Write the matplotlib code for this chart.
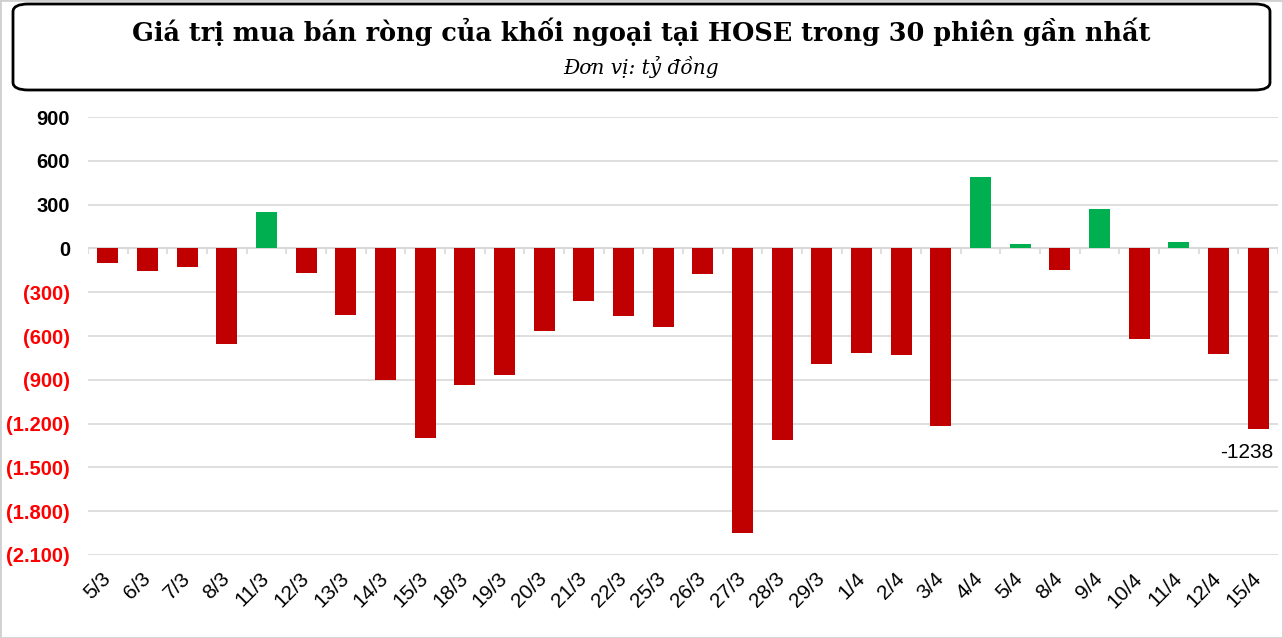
import matplotlib
matplotlib.use("Agg")
import matplotlib.pyplot as plt
from matplotlib.patches import FancyBboxPatch, Rectangle

# Du lieu: gia tri mua ban rong (ty dong)
ngay = ["5/3", "6/3", "7/3", "8/3", "11/3", "12/3", "13/3", "14/3", "15/3", "18/3",
        "19/3", "20/3", "21/3", "22/3", "25/3", "26/3", "27/3", "28/3", "29/3", "1/4",
        "2/4", "3/4", "4/4", "5/4", "8/4", "9/4", "10/4", "11/4", "12/4", "15/4"]
gia_tri = [-98, -155, -126, -657, 248, -166, -453, -903, -1300, -937,
           -864, -564, -360, -462, -537, -173, -1948, -1312, -789, -714,
           -728, -1217, 487, 29, -148, 268, -619, 43, -721, -1238]
y_ticks = [900, 600, 300, 0, -300, -600, -900, -1200, -1500, -1800, -2100]

RED = "#C00000"
GREEN = "#00B050"
GRID = "#D9D9D9"

fig = plt.figure(figsize=(12.83, 6.38), dpi=100)
ax = fig.add_axes([88 / 1283, 1 - 555 / 638, 1190 / 1283, 438 / 638])

x = list(range(len(ngay)))
colors = [GREEN if v > 0 else RED for v in gia_tri]
ax.bar(x, gia_tri, width=0.53, color=colors, zorder=3)

ax.set_xlim(-0.5, len(ngay) - 0.5)
ax.set_ylim(-2100, 900)
ax.set_yticks(y_ticks)


def fmt(v):
    s = f"{abs(v):,}".replace(",", ".")
    return f"({s})" if v < 0 else s


ax.set_yticklabels([fmt(v) for v in y_ticks], fontsize=14.5, fontweight="bold",
                   family="Liberation Sans")
for lbl, v in zip(ax.get_yticklabels(), y_ticks):
    lbl.set_color("red" if v < 0 else "black")
ax.tick_params(axis="y", length=0, pad=13)

ax.set_xticks(x)
ax.set_xticklabels(ngay, rotation=45, ha="right", va="center",
                   rotation_mode="anchor", fontsize=15, family="Liberation Sans")
ax.tick_params(axis="x", length=0, pad=15)

ax.grid(axis="y", color=GRID, linewidth=1.2, zorder=0)
ax.axhline(0, color=GRID, linewidth=1.5, zorder=2)
# vach chia giua cac phien tren truc 0
ax.vlines([i + 0.5 for i in range(-1, len(ngay))], -35, 0, color=GRID,
          linewidth=1.2, zorder=2)
for s in ax.spines.values():
    s.set_visible(False)

# nhan phien cuoi
ax.annotate(str(gia_tri[-1]), (x[-1], gia_tri[-1]), xytext=(-8, -10),
            textcoords="offset points", ha="center", va="top", fontsize=15,
            family="Liberation Sans", color="black", zorder=4)

# khung tieu de
box = FancyBboxPatch((13 / 1283, 1 - 90 / 638), 1257 / 1283, 86 / 638,
                     boxstyle="round,pad=0,rounding_size=0.012",
                     transform=fig.transFigure, fill=False, edgecolor="black",
                     linewidth=2)
fig.patches.append(box)
fig.patches.append(Rectangle((0, 0), 1, 1, transform=fig.transFigure, fill=False,
                             edgecolor="#D0D0D0", linewidth=2))

fig.text(0.5, 1 - 32 / 638, "Giá trị mua bán ròng của khối ngoại tại HOSE trong 30 phiên gần nhất",
         ha="center", va="center", fontsize=18.4, fontweight="bold",
         family="DejaVu Serif")
fig.text(0.5, 1 - 67 / 638, "Đơn vị: tỷ đồng", ha="center", va="center",
         fontsize=14.5, style="italic", family="DejaVu Serif")

fig.savefig("out.png", dpi=100)
